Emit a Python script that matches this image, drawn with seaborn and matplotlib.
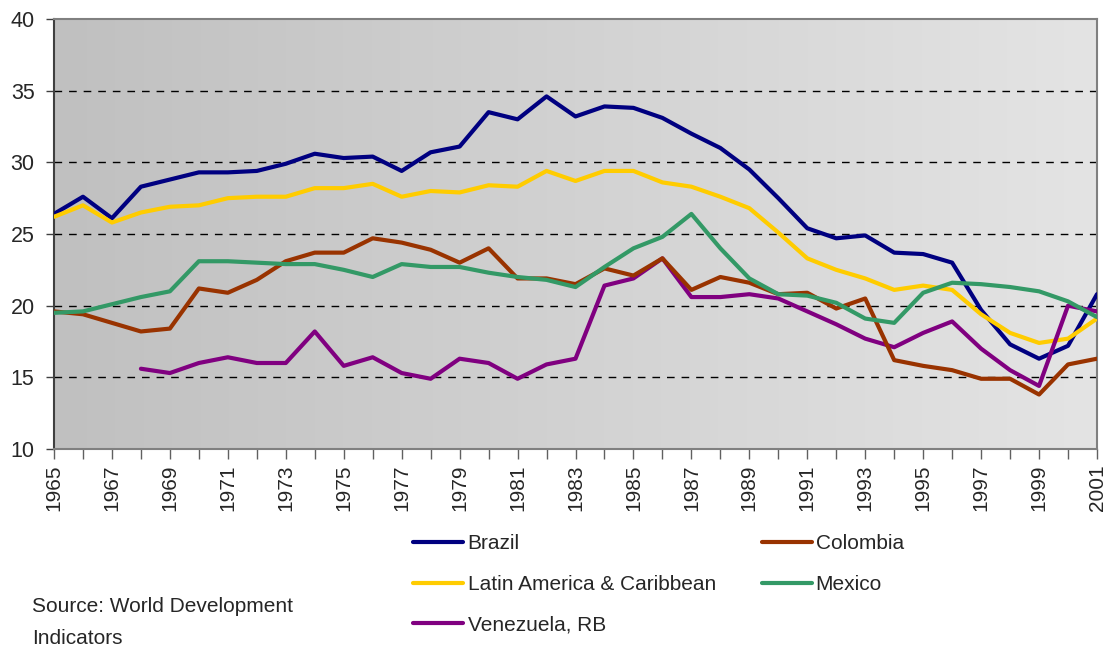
import numpy as np
import pandas as pd
import matplotlib
matplotlib.use("Agg")
import matplotlib.pyplot as plt
import seaborn as sns

years = list(range(1965, 2002))

brazil = [26.4, 27.6, 26.1, 28.3, 28.8, 29.3, 29.3, 29.4, 29.9, 30.6, 30.3, 30.4,
          29.4, 30.7, 31.1, 33.5, 33.0, 34.6, 33.2, 33.9, 33.8, 33.1, 32.0, 31.0,
          29.5, 27.5, 25.4, 24.7, 24.9, 23.7, 23.6, 23.0, 19.7, 17.3, 16.3, 17.2, 20.8]
colombia = [19.6, 19.4, 18.8, 18.2, 18.4, 21.2, 20.9, 21.8, 23.1, 23.7, 23.7, 24.7,
            24.4, 23.9, 23.0, 24.0, 21.9, 21.9, 21.5, 22.6, 22.1, 23.3, 21.1, 22.0,
            21.6, 20.8, 20.9, 19.8, 20.5, 16.2, 15.8, 15.5, 14.9, 14.9, 13.8, 15.9, 16.3]
lac = [26.2, 27.0, 25.8, 26.5, 26.9, 27.0, 27.5, 27.6, 27.6, 28.2, 28.2, 28.5,
       27.6, 28.0, 27.9, 28.4, 28.3, 29.4, 28.7, 29.4, 29.4, 28.6, 28.3, 27.6,
       26.8, 25.1, 23.3, 22.5, 21.9, 21.1, 21.4, 21.1, 19.4, 18.1, 17.4, 17.7, 19.1]
mexico = [19.5, 19.6, 20.1, 20.6, 21.0, 23.1, 23.1, 23.0, 22.9, 22.9, 22.5, 22.0,
          22.9, 22.7, 22.7, 22.3, 22.0, 21.8, 21.3, 22.7, 24.0, 24.8, 26.4, 24.0,
          21.9, 20.8, 20.7, 20.2, 19.1, 18.8, 20.9, 21.6, 21.5, 21.3, 21.0, 20.3, 19.2]
venezuela = [np.nan, np.nan, np.nan, 15.6, 15.3, 16.0, 16.4, 16.0, 16.0, 18.2, 15.8, 16.4,
             15.3, 14.9, 16.3, 16.0, 14.9, 15.9, 16.3, 21.4, 21.9, 23.3, 20.6, 20.6,
             20.8, 20.5, 19.6, 18.7, 17.7, 17.1, 18.1, 18.9, 17.0, 15.5, 14.4, 20.0, 19.6]

series_names = ["Brazil", "Latin America & Caribbean", "Venezuela, RB", "Colombia", "Mexico"]
series_values = [brazil, lac, venezuela, colombia, mexico]
colors = ["#000080", "#FFCC00", "#800080", "#993300", "#339966"]
y_ticks = [10, 15, 20, 25, 30, 35, 40]
source_lines = ["Source: World Development", "Indicators"]

rows = []
for name, vals in zip(series_names, series_values):
    for yr, v in zip(years, vals):
        rows.append({"year": yr, "value": v, "series": name})
df = pd.DataFrame(rows).dropna()

sns.set_style("white")
plt.rcParams["font.family"] = ["Liberation Sans", "DejaVu Sans"]

fig = plt.figure(figsize=(11.09, 6.52), dpi=100)
ax = fig.add_axes([54 / 1109, 1 - 449 / 652, (1097 - 54) / 1109, (449 - 19) / 652])

# gradient background
grad = np.linspace(0, 1, 256).reshape(1, -1)
cmap = matplotlib.colors.LinearSegmentedColormap.from_list("g", ["#c0c0c0", "#e4e4e4"])
ax.imshow(grad, aspect="auto", cmap=cmap, extent=[0, 1, 0, 1],
          transform=ax.transAxes, zorder=0)

for yv in y_ticks[1:-1]:
    ax.axhline(yv, color="black", lw=1.0, dashes=(5.5, 5.0), zorder=1)

sns.lineplot(data=df, x="year", y="value", hue="series", hue_order=series_names,
             palette=dict(zip(series_names, colors)), linewidth=3.0, ax=ax,
             legend=False, zorder=3)

ax.set_xlim(years[0], years[-1])
ax.set_ylim(y_ticks[0], y_ticks[-1])
ax.set_yticks(y_ticks)
ax.set_yticklabels([str(t) for t in y_ticks], fontsize=15.5)
ax.set_xticks(years)
ax.set_xticklabels([str(y) if (y - years[0]) % 2 == 0 else "" for y in years],
                   rotation=90, fontsize=15)
ax.set_xlabel("")
ax.set_ylabel("")
ax.tick_params(axis="y", direction="out", length=6, width=1, color="#404040",
               left=True, pad=8)
ax.tick_params(axis="x", direction="out", length=7, width=1, color="#606060",
               bottom=True, pad=4)

for side in ["top", "right", "bottom"]:
    ax.spines[side].set_color("#808080")
    ax.spines[side].set_linewidth(1.5)
ax.spines["left"].set_color("#404040")
ax.spines["left"].set_linewidth(1.5)

handles = [matplotlib.lines.Line2D([], [], color=c, lw=3.0) for c in colors]
fig.legend(handles, series_names, ncol=2, loc="upper left",
           bbox_to_anchor=(405 / 1109, 1 - 526 / 652), frameon=False,
           fontsize=15, handlelength=2.4, handletextpad=0.2,
           columnspacing=2.2, labelspacing=1.04, borderaxespad=0)

fig.text(32 / 1109, 1 - 606 / 652, source_lines[0], fontsize=15, va="center", ha="left")
fig.text(32 / 1109, 1 - 638 / 652, source_lines[1], fontsize=15, va="center", ha="left")

fig.savefig("out.png", dpi=100)
